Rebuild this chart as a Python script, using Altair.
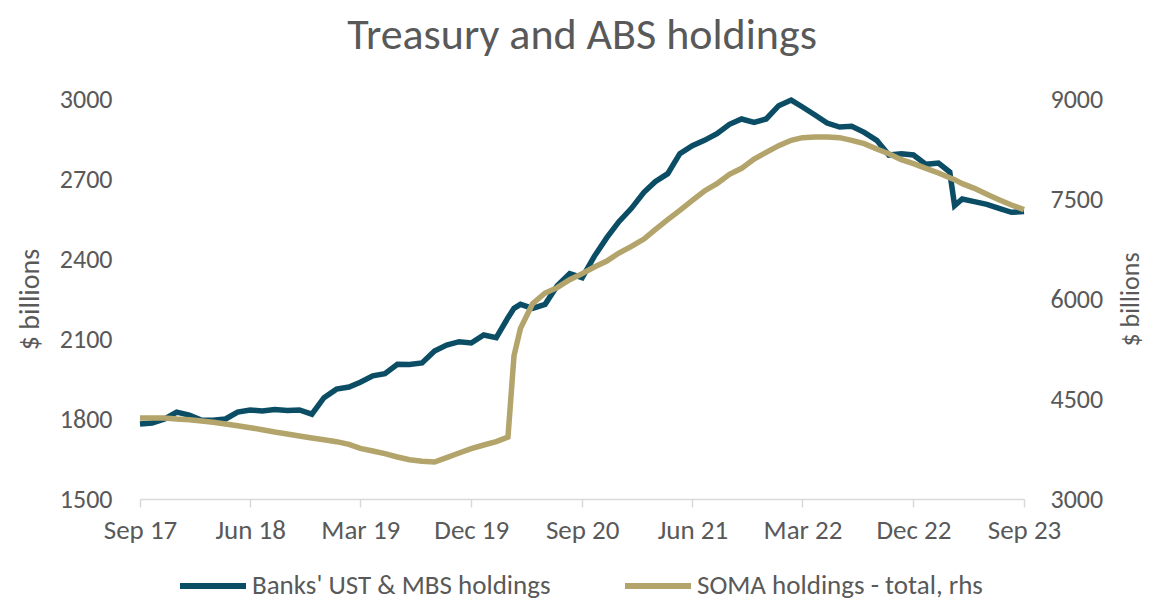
import altair as alt
import pandas as pd

# ---- data ----
month_starts = [d.strftime("%Y-%m-%d") for d in pd.date_range("2017-09-01", "2023-09-01", freq="MS")]
dates = month_starts[:31] + ["2020-03-16"] + month_starts[31:67] + ["2023-03-13"] + month_starts[67:]

banks = [1781, 1785, 1800, 1826, 1815, 1795, 1795, 1800, 1826, 1834,
         1830, 1836, 1832, 1834, 1818, 1880, 1912, 1920, 1938, 1962,
         1970, 2005, 2004, 2010, 2055, 2077, 2090, 2085, 2115, 2105,
         2180, 2215,
         2230, 2215, 2230, 2300, 2345, 2330, 2410, 2480, 2540, 2590,
         2650, 2690, 2720, 2795, 2825, 2845, 2870, 2905, 2925, 2912,
         2925, 2975, 2996, 2970, 2940, 2910, 2895, 2898, 2875, 2845,
         2790, 2795, 2790, 2755, 2760, 2726,
         2600,
         2625, 2615, 2605, 2590, 2575, 2578]

soma = [4215, 4215, 4215, 4200, 4190, 4170, 4150, 4125, 4100, 4070,
        4040, 4005, 3975, 3945, 3915, 3890, 3860, 3820, 3760, 3720,
        3680, 3630, 3590, 3565, 3555, 3620, 3690, 3755, 3810, 3860,
        3930, 5150,
        5560, 5930, 6090, 6170, 6290, 6380, 6480, 6570, 6690, 6790,
        6900, 7040, 7190, 7330, 7480, 7620, 7730, 7870, 7960, 8100,
        8200, 8300, 8380, 8420, 8430, 8430, 8420, 8380, 8330, 8250,
        8180, 8090, 8030, 7960, 7890, 7820,
        7790,
        7730, 7660, 7570, 7490, 7410, 7340]

series_names = ["Banks' UST & MBS holdings", "SOMA holdings - total, rhs"]
series_colors = ["#0c4d66", "#b3a46b"]
left_ticks = [1500, 1800, 2100, 2400, 2700, 3000]
right_ticks = [3000, 4500, 6000, 7500, 9000]
x_tick_dates = [(2017, 9), (2018, 6), (2019, 3), (2019, 12), (2020, 9),
                (2021, 6), (2022, 3), (2022, 12), (2023, 9)]

df = pd.DataFrame({
    "date": dates * 2,
    "value": banks + soma,
    "series": [series_names[0]] * len(dates) + [series_names[1]] * len(dates),
})

FONT = "Carlito, 'Liberation Sans Narrow', Lato, sans-serif"
GREY = "#595959"

x_enc = alt.X(
    "date:T",
    scale=alt.Scale(type="utc",
                    domain=[alt.DateTime(year=2017, month=9, date=1, utc=True),
                            alt.DateTime(year=2023, month=9, date=1, utc=True)]),
    axis=alt.Axis(
        values=[alt.DateTime(year=y, month=m, date=1, utc=True) for y, m in x_tick_dates],
        labelExpr="utcFormat(datum.value, '%b %y')",
        labelFlush=False, labelOverlap=False, labelBound=False,
        grid=False, domainColor="#d9d9d9", tickColor="#d9d9d9", tickSize=8,
        labelPadding=10, title=None, labelFont=FONT, labelFontSize=27,
        labelColor=GREY, domainWidth=1.5, tickWidth=1.5,
    ),
)

color_enc = alt.Color(
    "series:N",
    scale=alt.Scale(domain=series_names, range=series_colors),
    legend=alt.Legend(
        title=None, orient="none", direction="horizontal",
        legendX=37, legendY=451,
        symbolType="stroke", symbolSize=4356, symbolStrokeWidth=6,
        labelFont=FONT, labelFontSize=27, labelColor=GREY,
        labelOffset=3, columnPadding=62, labelLimit=400,
    ),
)

left = alt.Chart(df).transform_filter(
    alt.datum.series == series_names[0]
).mark_line(strokeWidth=5.5).encode(
    x=x_enc,
    y=alt.Y("value:Q",
            scale=alt.Scale(domain=[1500, 3000], nice=False, zero=False),
            axis=alt.Axis(values=left_ticks, format="d", grid=False, domain=False, ticks=False,
                          labelPadding=28, labelFont=FONT, labelFontSize=26, labelColor=GREY,
                          title="$ billions", titleFont=FONT, titleFontSize=28,
                          titleColor=GREY, titleFontWeight="normal",
                          titleX=-110, titleY=200, titleAngle=270,
                          titleBaseline="middle", titleAlign="center")),
    color=color_enc,
)

right = alt.Chart(df).transform_filter(
    alt.datum.series == series_names[1]
).mark_line(strokeWidth=5.5).encode(
    x=x_enc,
    y=alt.Y("value:Q",
            scale=alt.Scale(domain=[3000, 9000], nice=False, zero=False),
            axis=alt.Axis(orient="right", values=right_ticks, format="d", grid=False,
                          domain=False, ticks=False, labelPadding=26, labelFont=FONT,
                          labelFontSize=26, labelColor=GREY,
                          title="$ billions", titleFont=FONT, titleFontSize=26,
                          titleColor=GREY, titleFontWeight="normal",
                          titleX=106, titleY=200, titleAngle=270,
                          titleBaseline="middle", titleAlign="center")),
    color=color_enc,
)

chart = alt.layer(left, right).resolve_scale(y="independent").properties(
    width=884, height=400,
    autosize=alt.AutoSizeParams(type="none"),
    padding={"left": 132, "top": 91, "right": 120, "bottom": 103},
    title=alt.TitleParams("Treasury and ABS holdings", font=FONT, fontSize=44,
                          fontWeight="normal", color=GREY, anchor="middle", offset=28),
).configure_view(stroke=None)

chart.save("out.html", embed_options={"renderer": "svg", "actions": False})
